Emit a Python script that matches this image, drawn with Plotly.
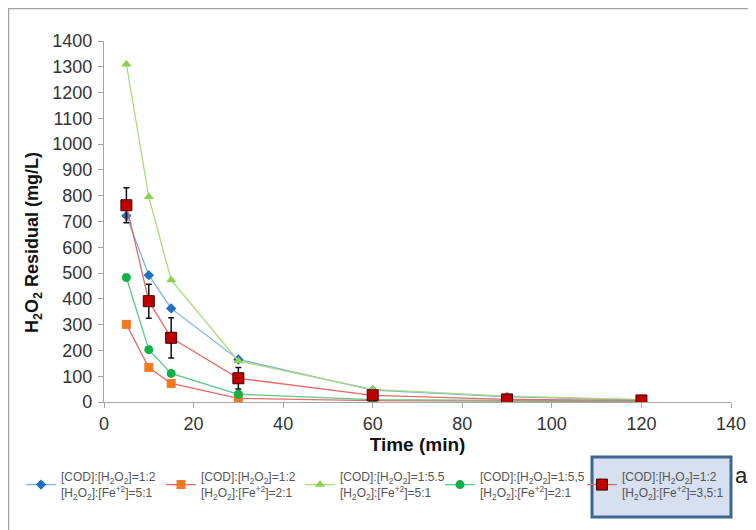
import plotly.graph_objects as go

time = [5, 10, 15, 30, 60, 90, 120]

blue_vals = [722, 492, 363, 165, 46, 20, 8]
orange_vals = [301, 134, 72, 14, 5, 3, 2]
lgreen_vals = [1310, 796, 473, 159, 49, 23, 9]
dgreen_vals = [483, 203, 111, 30, 9, 5, 3]
red_vals = [763, 391, 249, 92, 26, 10, 6]
red_err = [68, 66, 78, 42, 0, 0, 0]

names = [
    "[COD]:[H<sub>2</sub>O<sub>2</sub>]=1:2<br>[H<sub>2</sub>O<sub>2</sub>]:[Fe<sup>+2</sup>]=5:1",
    "[COD]:[H<sub>2</sub>O<sub>2</sub>]=1:2<br>[H<sub>2</sub>O<sub>2</sub>]:[Fe<sup>+2</sup>]=2:1",
    "[COD]:[H<sub>2</sub>O<sub>2</sub>]=1:5.5<br>[H<sub>2</sub>O<sub>2</sub>]:[Fe<sup>+2</sup>]=5:1",
    "[COD]:[H<sub>2</sub>O<sub>2</sub>]=1:5,5<br>[H<sub>2</sub>O<sub>2</sub>]:[Fe<sup>+2</sup>]=2:1",
    "[COD]:[H<sub>2</sub>O<sub>2</sub>]=1:2<br>[H<sub>2</sub>O<sub>2</sub>]:[Fe<sup>+2</sup>]=3,5:1",
]

y_title = "<b>H<sub>2</sub>O<sub>2</sub> Residual (mg/L)</b>"
x_title = "<b>Time (min)</b>"

# page body has an 8px margin; screen coords are used below
OFF = 8
W0, W1 = 104, 731   # plot area x (screen)
H0, H1 = 41, 402    # plot area y (screen)
FW, FH = 756 - OFF, 530 - OFF

def px(x):
    return (x - W0) / (W1 - W0)

def py(y):
    return (H1 - y) / (H1 - H0)

fig = go.Figure()
fig.add_trace(go.Scatter(x=time, y=blue_vals, name=names[0], mode="lines+markers",
                         legend="legend",
                         line=dict(color="#7fb2e5", width=1.3),
                         marker=dict(symbol="diamond", size=8, color="#1f6fc5")))
fig.add_trace(go.Scatter(x=time, y=orange_vals, name=names[1], mode="lines+markers",
                         legend="legend2",
                         line=dict(color="#e86a6a", width=1.3),
                         marker=dict(symbol="square", size=9, color="#f07a22")))
fig.add_trace(go.Scatter(x=time, y=lgreen_vals, name=names[2], mode="lines+markers",
                         legend="legend3",
                         line=dict(color="#a9dc7a", width=1.3),
                         marker=dict(symbol="triangle-up", size=9, color="#8fd050")))
fig.add_trace(go.Scatter(x=time, y=dgreen_vals, name=names[3], mode="lines+markers",
                         legend="legend4",
                         line=dict(color="#5cc886", width=1.3),
                         marker=dict(symbol="circle", size=9, color="#10b04a")))
fig.add_trace(go.Scatter(x=time, y=red_vals, name=names[4], mode="lines+markers",
                         legend="legend5",
                         line=dict(color="#e46a6a", width=1.3),
                         marker=dict(symbol="square", size=11, color="#c00000",
                                     line=dict(color="#400000", width=1)),
                         error_y=dict(type="data", array=red_err, visible=True,
                                      color="#111111", thickness=1.5, width=3)))

leg_left = [21, 161, 300, 440, 582]
legend_common = dict(yanchor="middle", xanchor="left", y=py(485),
                     font=dict(size=12, color="#555555"), bgcolor="rgba(0,0,0,0)",
                     itemwidth=30, orientation="v")
legends = {}
for i, L in enumerate(leg_left):
    key = "legend" if i == 0 else f"legend{i+1}"
    legends[key] = dict(x=px(L), **legend_common)

fig.update_layout(
    width=FW, height=FH,
    margin=dict(l=W0 - OFF, r=756 - W1, t=H0 - OFF, b=530 - H1, autoexpand=False),
    paper_bgcolor="white", plot_bgcolor="white",
    font=dict(family="Liberation Sans, Arial, sans-serif", color="#333333"),
    xaxis=dict(range=[0, 140], tickvals=[0, 20, 40, 60, 80, 100, 120, 140],
               showgrid=False, zeroline=False, showline=True, linecolor="#a6a6a6",
               linewidth=1.2, ticks="outside", ticklen=5, tickcolor="#a6a6a6",
               automargin=False,
               tickfont=dict(size=18, color="#333333"),
               title=dict(text=x_title, font=dict(size=19, color="#111111"),
                          standoff=1)),
    yaxis=dict(range=[0, 1400], dtick=100,
               showgrid=False, zeroline=False, showline=True, linecolor="#a6a6a6",
               linewidth=1.2, ticks="outside", ticklen=5, tickcolor="#a6a6a6",
               automargin=False, ticklabelstandoff=2,
               tickfont=dict(size=18, color="#333333")),
    showlegend=True,
    shapes=[
        dict(type="rect", xref="paper", yref="paper",
             x0=px(8.5), x1=px(755), y0=py(600), y1=py(8.5),
             line=dict(color="#a0a0a0", width=1.5), layer="above"),
        dict(type="rect", xref="paper", yref="paper",
             x0=px(592), x1=px(731), y0=py(517), y1=py(457),
             line=dict(color="#3f6690", width=3), fillcolor="#d7e0f0", layer="below"),
    ],
    annotations=[
        dict(text=y_title, xref="paper", yref="paper", x=px(33), y=py(243),
             xanchor="center", yanchor="middle", textangle=-90,
             showarrow=False, font=dict(size=18, color="#111111")),
        dict(text="a", xref="paper", yref="paper", x=px(741), y=py(475),
             xanchor="center", yanchor="middle",
             showarrow=False, font=dict(size=22, color="#222222")),
    ],
    **legends,
)

fig.write_html("out.html")
